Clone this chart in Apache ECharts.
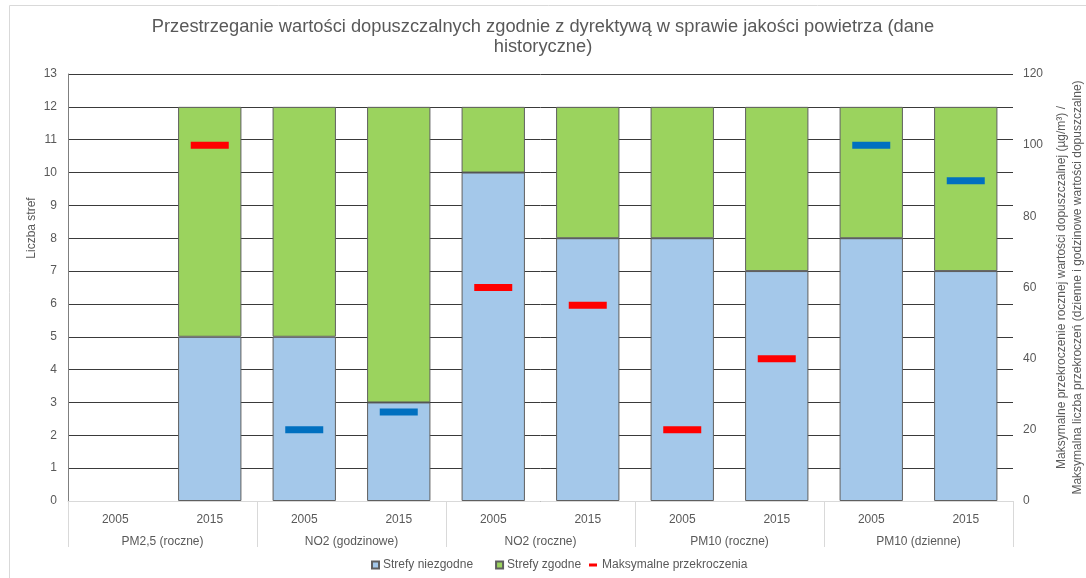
<!DOCTYPE html>
<html>
<head>
<meta charset="utf-8">
<script src="https://cdn.jsdelivr.net/npm/echarts@6/dist/echarts.min.js"></script>
<style>
  html, body { margin: 0; padding: 0; background: #fff; }
  #chart { width: 1086px; height: 578px; }
</style>
</head>
<body>
<div id="chart"></div>
<script>
// lata (dolny poziom osi X)
var years = ['2005', '2015', '2005', '2015', '2005', '2015', '2005', '2015', '2005', '2015'];
// grupy (drugi poziom osi X)
var groups = ['PM2,5 (roczne)', 'NO2 (godzinowe)', 'NO2 (roczne)', 'PM10 (roczne)', 'PM10 (dzienne)'];
// liczba stref
var nonCompliant = [null, 5, 5, 3, 10, 8, 8, 7, 8, 7];
var compliant = [null, 7, 7, 9, 2, 4, 4, 5, 4, 5];
// maksymalne przekroczenia (os prawa)
var maxExceed = [null, 100, 20, 25, 60, 55, 20, 40, 100, 90];
var leftTicks = { min: 0, max: 13, interval: 1 };
var rightTicks = { min: 0, max: 120, interval: 20 };

var txt = '#595959';
var font = 'Liberation Sans, Arial, sans-serif';

// liczba przekroczen (godzinowe / dzienne) na niebiesko, roczne na czerwono
function markerColor(idx) {
  var g = groups[Math.floor(idx / 2)];
  return (g.indexOf('godzinowe') >= 0 || g.indexOf('dzienne') >= 0) ? '#0070c0' : '#ff0000';
}

var chart = echarts.init(document.getElementById('chart'));
var option = {
  animation: false,
  textStyle: { fontFamily: font },
  title: {
    text: 'Przestrzeganie wartości dopuszczalnych zgodnie z dyrektywą w sprawie jakości powietrza (dane\nhistoryczne)',
    left: 'center',
    top: 12,
    textStyle: { color: txt, fontSize: 18.3, fontWeight: 'normal', lineHeight: 20, fontFamily: font }
  },
  grid: { left: 68, right: 73, top: 74, bottom: 77, outerBoundsMode: 'none' },
  legend: [
    {
      left: 366, top: 554,
      itemWidth: 7, itemHeight: 7, itemGap: 22,
      textStyle: { color: txt, fontSize: 12, padding: [0, 0, 0, -1] },
      data: [
        { name: 'Strefy niezgodne', icon: 'rect' },
        { name: 'Strefy zgodne', icon: 'rect' }
      ]
    },
    {
      left: 584, top: 554,
      itemWidth: 8, itemHeight: 3,
      textStyle: { color: txt, fontSize: 12 },
      data: [{ name: 'Maksymalne przekroczenia', icon: 'rect', itemStyle: { color: '#ff0000', borderWidth: 0 } }]
    }
  ],
  xAxis: [
    {
      type: 'category',
      data: years,
      axisLine: { lineStyle: { color: '#d9d9d9' } },
      axisTick: { show: false },
      axisLabel: { color: txt, fontSize: 12, margin: 13, interval: 0 }
    },
    {
      type: 'category',
      data: groups,
      position: 'bottom',
      axisLine: { show: false },
      axisTick: { show: true, length: 46, interval: 0, lineStyle: { color: '#d9d9d9' } },
      axisLabel: { color: txt, fontSize: 12, margin: 35, interval: 0 }
    }
  ],
  yAxis: [
    {
      type: 'value',
      min: leftTicks.min, max: leftTicks.max, interval: leftTicks.interval,
      axisLine: { show: true, lineStyle: { color: '#7f7f7f' } },
      axisTick: { show: false },
      axisLabel: { color: txt, fontSize: 12, margin: 11 },
      splitLine: { lineStyle: { color: '#3a3a3a' } }
    },
    {
      type: 'value',
      min: rightTicks.min, max: rightTicks.max, interval: rightTicks.interval,
      axisLine: { show: false },
      axisTick: { show: false },
      axisLabel: { color: txt, fontSize: 12, margin: 10 },
      splitLine: { show: false },
      name: 'Maksymalne przekroczenie rocznej wartości dopuszczalnej (µg/m³) /\nMaksymalna liczba przekroczeń (dzienne i godzinowe wartości dopuszczalne)',
      nameLocation: 'middle',
      nameRotate: 90,
      nameGap: 20,
      nameTextStyle: { color: txt, fontSize: 12, lineHeight: 16 }
    }
  ],
  series: [
    {
      name: 'Strefy niezgodne',
      type: 'bar',
      stack: 'strefy',
      barCategoryGap: '33%',
      data: nonCompliant,
      itemStyle: { color: '#a4c8ea', borderColor: '#5f5f5f', borderWidth: 1 }
    },
    {
      name: 'Strefy zgodne',
      type: 'bar',
      stack: 'strefy',
      data: compliant,
      itemStyle: { color: '#9bd35e', borderColor: '#5f5f5f', borderWidth: 1 }
    },
    {
      name: 'Maksymalne przekroczenia',
      type: 'scatter',
      yAxisIndex: 1,
      symbol: 'rect',
      symbolSize: [38, 7],
      z: 5,
      data: maxExceed,
      itemStyle: {
        opacity: 1,
        color: function (p) { return markerColor(p.dataIndex); }
      }
    }
  ],
  graphic: [
    {
      type: 'rect',
      shape: { x: 9.5, y: 5.5, width: 1090, height: 590 },
      style: { fill: 'none', stroke: '#d9d9d9', lineWidth: 1 },
      silent: true
    },
    {
      type: 'text',
      x: 32, y: 228,
      rotation: Math.PI / 2,
      style: { text: 'Liczba stref', fill: txt, font: '12px ' + font, align: 'center', verticalAlign: 'middle' }
    }
  ]
};
chart.setOption(option);
</script>
</body>
</html>
